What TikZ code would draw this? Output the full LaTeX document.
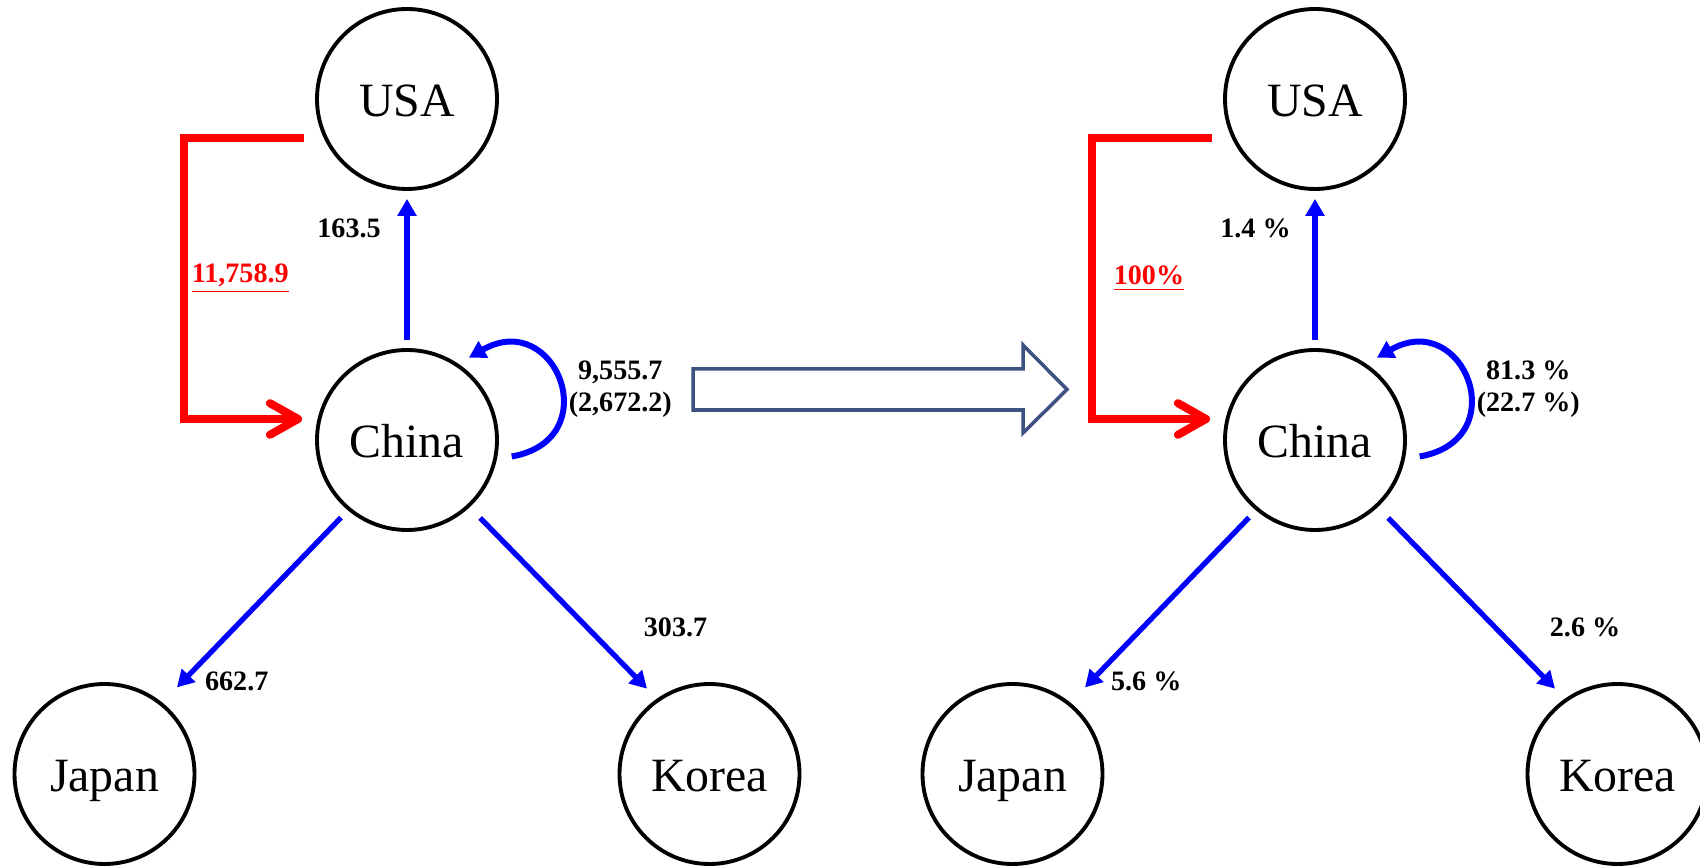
\documentclass[tikz,border=0pt]{standalone}
\usepackage{amssymb,amsmath}
\usepackage{fontspec}
\setmainfont{Liberation Serif}
\usepackage{tikz}
\usetikzlibrary{arrows.meta,positioning}
\definecolor{shiftblue}{RGB}{62,82,130}

\begin{document}
\begin{tikzpicture}[
    country/.style={shape=circle, draw=black, line width=1.1pt, minimum size=1.8cm, inner sep=0pt, text height=10pt, text depth=0pt, font=\fontsize{13.6}{16}\selectfont},
    flow/.style={draw=blue, line width=1.5pt, -{Triangle[length=4.8pt,width=5.2pt]}},
    selfloop/.style={line width=1.7pt, out=10, in=30, looseness=2.8},
    feed/.style={draw=red, line width=2.3pt, line join=miter, -{Straight Barb[length=8pt,width=9pt,round]}},
    val/.style={font=\fontsize{8}{9}\selectfont\bfseries, align=center},
    bigarrow/.style={draw=shiftblue, line width=1pt, fill=white}
]
    \useasboundingbox (0,0) rectangle (17,8.66);
    % left: amounts
    \node[country] at (4.07,7.67) (USAL) {USA};
    \node[country] at (4.07,4.26) (ChinaL) {China};
    \node[country] at (1.045,0.92) (JapanL) {Japan};
    \node[country] at (7.095,0.92) (KoreaL) {Korea};
    \draw[feed] ([shift={(-0.11,-0.39)}]USAL.west) -- ++(-1.2,0) |- node[val, text=red, pos=0.25, right=-0.08cm] {\underline{11,758.9}} ([shift={(-0.13,0.21)}]ChinaL.west);
    \path (ChinaL) edge[flow, shorten <=0.08cm, shorten >=0.08cm] node[val, pos=0.76, left=0.12cm] {163.5} (USAL);
    \path (ChinaL.230) edge[flow, shorten <=0.1cm, shorten >=0.21cm] node[val, pos=0.89, right=0.08cm] {662.7} (JapanL.51);
    \path (ChinaL.-47.5) edge[flow, shorten <=0.15cm, shorten >=0.14cm] node[val, pos=0.63, right=0.42cm] {303.7} (KoreaL.125.7);
    \path (ChinaL.-12) edge[flow, selfloop, shorten <=0.15cm, shorten >=0.12cm] node[val, pos=0.42, right=-0.05cm, yshift=0.08cm] {9,555.7\\(2,672.2)} (ChinaL.56);

    % hollow arrow between the two panels
    \draw[bigarrow] (6.93,4.97) -- (10.23,4.97) -- (10.23,5.21) -- (10.67,4.765) -- (10.23,4.33) -- (10.23,4.56) -- (6.93,4.56) -- cycle;

    % right: shares
    \node[country] at (13.15,7.67) (USAR) {USA};
    \node[country] at (13.15,4.26) (ChinaR) {China};
    \node[country] at (10.125,0.92) (JapanR) {Japan};
    \node[country] at (16.175,0.92) (KoreaR) {Korea};
    \draw[feed] ([shift={(-0.11,-0.39)}]USAR.west) -- ++(-1.2,0) |- node[val, text=red, pos=0.25, right=0.06cm] {\underline{100\%}} ([shift={(-0.13,0.21)}]ChinaR.west);
    \path (ChinaR) edge[flow, shorten <=0.08cm, shorten >=0.08cm] node[val, pos=0.76, left=0.1cm] {1.4 \%} (USAR);
    \path (ChinaR.230) edge[flow, shorten <=0.1cm, shorten >=0.21cm] node[val, pos=0.89, right=0.06cm] {5.6 \%} (JapanR.51);
    \path (ChinaR.-47.5) edge[flow, shorten <=0.15cm, shorten >=0.14cm] node[val, pos=0.63, right=0.4cm] {2.6 \%} (KoreaR.125.7);
    \path (ChinaR.-12) edge[flow, selfloop, shorten <=0.15cm, shorten >=0.12cm] node[val, pos=0.42, right=-0.05cm, yshift=0.08cm] {81.3 \%\\(22.7 \%)} (ChinaR.56);
\end{tikzpicture}
\end{document}
